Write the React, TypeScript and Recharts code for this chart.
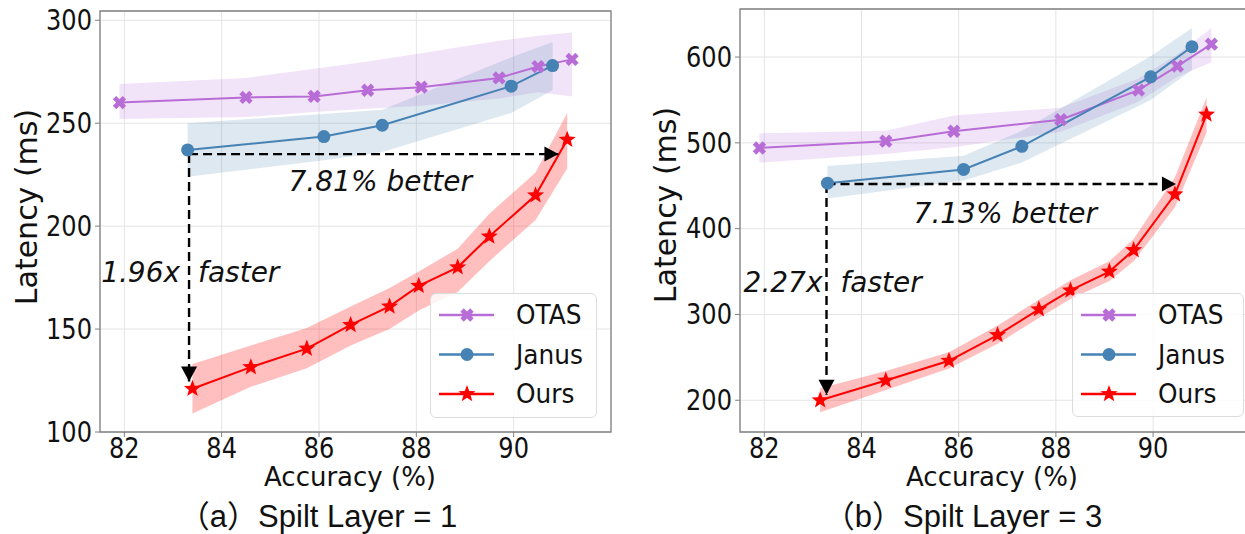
import React from "react";
import {
  Area,
  CartesianGrid,
  ComposedChart,
  Line,
  ReferenceArea,
  ReferenceDot,
  ReferenceLine,
  XAxis,
  YAxis,
} from "recharts";

// ---- (a) Spilt Layer = 1 ----
const otasAccA = [81.9, 84.5, 85.9, 87.0, 88.1, 89.7, 90.5, 91.2];
const otasLatA = [260, 262.5, 263, 266, 267.5, 272, 277.5, 281];
const otasLoA = [252, 253, 255.5, 257, 258.5, 262, 265, 263];
const otasHiA = [269, 272, 276.5, 280, 284, 290, 292.5, 294];

const janusAccA = [83.3, 86.1, 87.3, 89.95, 90.8];
const janusLatA = [237, 243.5, 249, 268, 278];
const janusLoA = [224, 232, 236, 255, 266];
const janusHiA = [250, 254.5, 256.5, 282, 289.5];

const oursAccA = [83.4, 84.6, 85.75, 86.65, 87.45, 88.05, 88.85, 89.5, 90.45, 91.1];
const oursLatA = [121, 131.5, 140.5, 152, 161, 171, 180, 195, 215, 242];
const oursLoA = [109, 122, 131, 142, 150, 159, 168, 183, 203, 228];
const oursHiA = [133, 142, 150.5, 161, 170, 178, 189, 206, 226, 255];

// ---- (b) Spilt Layer = 3 ----
const otasAccB = [81.9, 84.5, 85.9, 88.1, 89.7, 90.5, 91.2];
const otasLatB = [494, 502, 513.5, 527, 561.5, 589.5, 615];
const otasLoB = [477, 487, 495, 513, 548, 577, 594];
const otasHiB = [511, 514, 532, 541, 575, 603, 634];

const janusAccB = [83.3, 86.1, 87.3, 89.95, 90.8];
const janusLatB = [453, 469, 496, 577, 612];
const janusLoB = [435, 456, 477, 550, 585];
const janusHiB = [473, 485, 514, 601, 634];

const oursAccB = [83.15, 84.5, 85.8, 86.8, 87.65, 88.3, 89.1, 89.6, 90.45, 91.1];
const oursLatB = [200, 223, 246, 276, 306, 328, 350, 375, 440, 533];
const oursLoB = [186, 212, 237, 266, 296, 318, 339, 362, 425, 512];
const oursHiB = [214, 234, 256, 287, 317, 340, 362, 388, 460, 553];

// axes
const xTicks = [82, 84, 86, 88, 90];
const yTicksA = [100, 150, 200, 250, 300];
const yTicksB = [200, 300, 400, 500, 600];

// annotations: [start acc, start lat, right tip acc, down tip lat]
const arrowA = [83.33, 235, 90.92, 124.5];
const arrowB = [83.28, 452, 90.47, 206.5];
const betterA = { text: "7.81% better", x: 87.26, y: 221.5 };
const betterB = { text: "7.13% better", x: 86.96, y: 418 };
const fasterA = { left: "1.96x", right: "faster", y: 177.5 };
const fasterB = { left: "2.27x", right: "faster", y: 337 };

const OTAS = "#b86cd6";
const JANUS = "#4682b4";
const OURS = "#ff0000";

type Row = { x: number; y: number; band: [number, number] };
const rows = (acc: number[], lat: number[], lo: number[], hi: number[]): Row[] =>
  acc.map((x, i) => ({ x, y: lat[i], band: [lo[i], hi[i]] }));

function xPath(cx: number, cy: number, s = 7, w = 2.4) {
  const pts = [[-w, -s], [w, -s], [w, -w], [s, -w], [s, w], [w, w], [w, s], [-w, s], [-w, w], [-s, w], [-s, -w], [-w, -w]];
  const c = Math.SQRT1_2;
  return pts.map(([px, py], i) => `${i ? "L" : "M"}${cx + (px - py) * c},${cy + (px + py) * c}`).join("") + "Z";
}

function starPath(cx: number, cy: number, R = 9, r = 3.8) {
  let d = "";
  for (let i = 0; i < 10; i++) {
    const a = -Math.PI / 2 + (i * Math.PI) / 5;
    const rad = i % 2 === 0 ? R : r;
    d += `${i ? "L" : "M"}${cx + rad * Math.cos(a)},${cy + rad * Math.sin(a)}`;
  }
  return d + "Z";
}

function marker(kind: string, cx: number, cy: number, color: string, key?: string | number) {
  if (kind === "x") return <path key={key} d={xPath(cx, cy)} fill={color} />;
  if (kind === "o") return <circle key={key} cx={cx} cy={cy} r={6.5} fill={color} />;
  return <path key={key} d={starPath(cx, cy)} fill={color} />;
}

function YTick({ x, y, payload }: any) {
  return (
    <text transform={`translate(${x},${y}) scale(0.86,1)`} textAnchor="end" dominantBaseline="central" fontSize={28} fill="#111" fontFamily="DejaVu Sans">
      {payload.value}
    </text>
  );
}

function XTick({ x, y, payload }: any) {
  return (
    <text transform={`translate(${x},${y + 9}) scale(0.86,1)`} textAnchor="middle" dominantBaseline="central" fontSize={28} fill="#111" fontFamily="DejaVu Sans">
      {payload.value}
    </text>
  );
}

const ann = { fontFamily: "DejaVu Sans", fontStyle: "italic" as const, fontSize: 28, fill: "#111" };

function Panel(props: {
  width: number;
  yWidth: number;
  top: number;
  right: number;
  xDomain: [number, number];
  yDomain: [number, number];
  yTicks: number[];
  otas: Row[];
  janus: Row[];
  ours: Row[];
  arrow: number[];
  better: { text: string; x: number; y: number };
  faster: { left: string; right: string; y: number };
  gaps: [number, number];
}) {
  const { xDomain, yDomain, arrow } = props;
  const [ax, ay, tipX, tipY] = arrow;
  const series: [Row[], string, string][] = [
    [props.otas, OTAS, "x"],
    [props.janus, JANUS, "o"],
    [props.ours, OURS, "*"],
  ];
  return (
    <ComposedChart width={props.width} height={534} margin={{ top: props.top, right: props.right, left: 0, bottom: 0 }}>
      <CartesianGrid stroke="#e4e4e4" strokeWidth={1} />
      <XAxis
        type="number"
        dataKey="x"
        domain={xDomain}
        ticks={xTicks}
        allowDataOverflow
        height={102}
        interval={0}
        axisLine={false}
        tickLine={{ stroke: "#808080" }}
        tickSize={5}
        tick={XTick}
      />
      <YAxis
        type="number"
        domain={yDomain}
        ticks={props.yTicks}
        allowDataOverflow
        width={props.yWidth}
        interval={0}
        axisLine={false}
        tickLine={{ stroke: "#808080" }}
        tickSize={5}
        tickMargin={3}
        tick={YTick}
      />
      <ReferenceArea x1={xDomain[0]} x2={xDomain[1]} y1={yDomain[0]} y2={yDomain[1]} fill="none" stroke="#808080" strokeWidth={1.3} ifOverflow="visible" />
      {series.map(([d, c], i) => (
        <Area key={`b${i}`} data={d} dataKey="band" type="linear" stroke="none" fill={c} fillOpacity={i === 2 ? 0.25 : 0.18} isAnimationActive={false} activeDot={false} />
      ))}
      {series.map(([d, c, k], i) => (
        <Line
          key={`l${i}`}
          data={d}
          dataKey="y"
          type="linear"
          stroke={c}
          strokeWidth={2}
          isAnimationActive={false}
          activeDot={false}
          dot={(p: any) => marker(k, p.cx, p.cy, c, `d${i}-${p.index}`)}
        />
      ))}
      <ReferenceLine segment={[{ x: ax, y: ay }, { x: tipX, y: ay }]} stroke="#000" strokeWidth={2.4} strokeDasharray="9 5" ifOverflow="visible" />
      <ReferenceLine segment={[{ x: ax, y: ay }, { x: ax, y: tipY }]} stroke="#000" strokeWidth={2.4} strokeDasharray="9 5" ifOverflow="visible" />
      <ReferenceDot x={tipX} y={ay} r={0} ifOverflow="visible" shape={(p: any) => <path d={`M${p.cx},${p.cy}L${p.cx - 14},${p.cy - 7.5}L${p.cx - 14},${p.cy + 7.5}Z`} fill="#000" />} />
      <ReferenceDot x={ax} y={tipY} r={0} ifOverflow="visible" shape={(p: any) => <path d={`M${p.cx},${p.cy}L${p.cx - 8},${p.cy - 15}L${p.cx + 8},${p.cy - 15}Z`} fill="#000" />} />
      <ReferenceDot
        x={props.better.x}
        y={props.better.y}
        r={0}
        ifOverflow="visible"
        shape={(p: any) => (
          <text x={p.cx} y={p.cy} textAnchor="middle" dominantBaseline="central" {...ann}>
            {props.better.text}
          </text>
        )}
      />
      <ReferenceDot
        x={ax}
        y={props.faster.y}
        r={0}
        ifOverflow="visible"
        shape={(p: any) => (
          <g>
            <text x={p.cx - props.gaps[0]} y={p.cy} textAnchor="end" dominantBaseline="central" {...ann}>
              {props.faster.left}
            </text>
            <text x={p.cx + props.gaps[1]} y={p.cy} textAnchor="start" dominantBaseline="central" {...ann}>
              {props.faster.right}
            </text>
          </g>
        )}
      />
    </ComposedChart>
  );
}

function LegendBox({ left, top, width, height }: { left: number; top: number; width: number; height: number }) {
  const entries: [string, string, string][] = [
    ["OTAS", OTAS, "x"],
    ["Janus", JANUS, "o"],
    ["Ours", OURS, "*"],
  ];
  return (
    <div
      style={{
        position: "absolute",
        left,
        top,
        width,
        height,
        boxSizing: "border-box",
        border: "1px solid #dcdcdc",
        borderRadius: 6,
        background: "rgba(255,255,255,0.82)",
      }}
    >
      <svg width={width} height={height} style={{ position: "absolute", left: -1, top: -1 }}>
        {entries.map(([name, c, k], i) => {
          const cy = 22 + i * 39.5;
          return (
            <g key={name}>
              <line x1={9} x2={64} y1={cy} y2={cy} stroke={c} strokeWidth={2.5} />
              {marker(k, 37, cy, c)}
              <text transform={`translate(86,${cy}) scale(0.92,1)`} dominantBaseline="central" fontSize={27} fill="#111" fontFamily="DejaVu Sans">
                {name}
              </text>
            </g>
          );
        })}
      </svg>
    </div>
  );
}

function Label({ cx, cy, text, size, family, rotate }: { cx: number; cy: number; text: string; size: number; family: string; rotate?: boolean }) {
  return (
    <div
      style={{
        position: "absolute",
        left: cx - 200,
        top: cy - 20,
        width: 400,
        height: 40,
        lineHeight: "40px",
        textAlign: "center",
        fontSize: size,
        fontFamily: family,
        color: "#111",
        whiteSpace: "nowrap",
        transform: rotate ? "rotate(-90deg)" : undefined,
      }}
    >
      {text}
    </div>
  );
}

export default function App() {
  const capFont = "'Liberation Sans', 'Noto Sans CJK SC', sans-serif";
  return (
    <div style={{ position: "absolute", left: 0, top: 0, width: 1245, height: 534, background: "#fff", overflow: "hidden" }}>
      <div style={{ position: "absolute", left: 0, top: 0 }}>
        <Panel
          width={620}
          yWidth={100}
          top={11}
          right={9}
          xDomain={[81.5, 92]}
          yDomain={[100, 304.5]}
          yTicks={yTicksA}
          otas={rows(otasAccA, otasLatA, otasLoA, otasHiA)}
          janus={rows(janusAccA, janusLatA, janusLoA, janusHiA)}
          ours={rows(oursAccA, oursLatA, oursLoA, oursHiA)}
          arrow={arrowA}
          better={betterA}
          faster={fasterA}
          gaps={[9, 9]}
        />
      </div>
      <div style={{ position: "absolute", left: 620, top: 0 }}>
        <Panel
          width={640}
          yWidth={120}
          top={9}
          right={0}
          xDomain={[81.5, 92.2]}
          yDomain={[163, 656]}
          yTicks={yTicksB}
          otas={rows(otasAccB, otasLatB, otasLoB, otasHiB)}
          janus={rows(janusAccB, janusLatB, janusLoB, janusHiB)}
          ours={rows(oursAccB, oursLatB, oursLoB, oursHiB)}
          arrow={arrowB}
          better={betterB}
          faster={fasterB}
          gaps={[4, 14]}
        />
      </div>
      <LegendBox left={430} top={293} width={167} height={125} />
      <LegendBox left={1072} top={293} width={172} height={124} />
      <Label cx={27} cy={207} text="Latency (ms)" size={30} family="DejaVu Sans" rotate />
      <Label cx={666} cy={205} text="Latency (ms)" size={30} family="DejaVu Sans" rotate />
      <Label cx={350} cy={477} text="Accuracy (%)" size={26} family="DejaVu Sans" />
      <Label cx={992} cy={477} text="Accuracy (%)" size={26} family="DejaVu Sans" />
      <Label cx={318} cy={517} text="（a）Spilt Layer = 1" size={31} family={capFont} />
      <Label cx={963} cy={517} text="（b）Spilt Layer = 3" size={31} family={capFont} />
    </div>
  );
}
